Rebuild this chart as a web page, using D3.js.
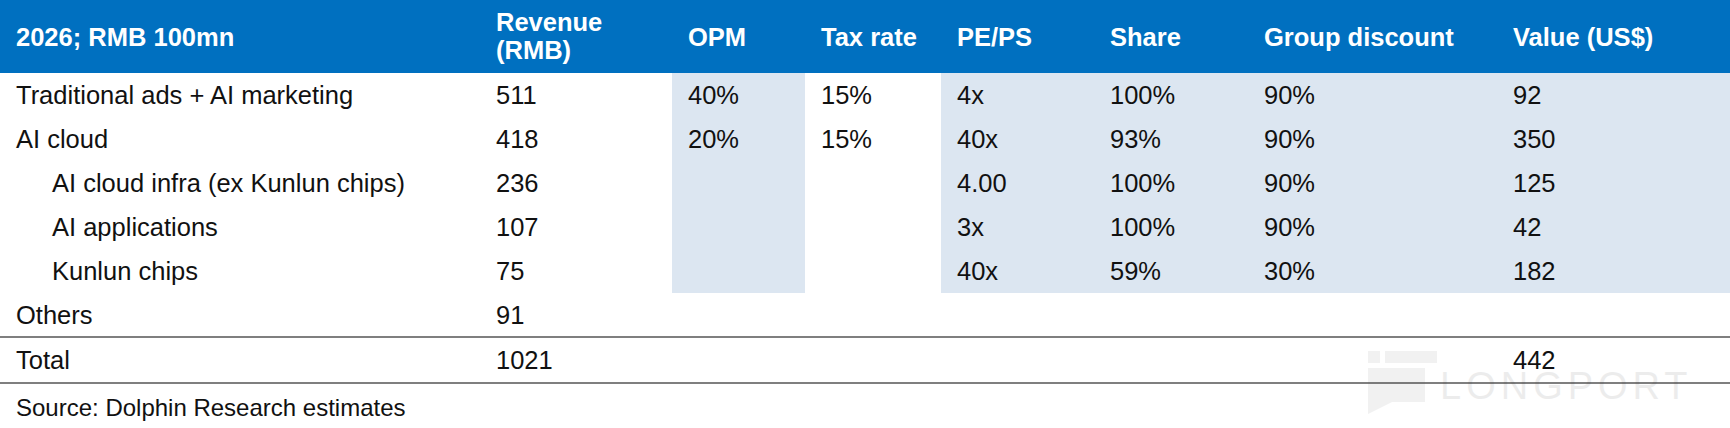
<!DOCTYPE html>
<html>

<head>
  <title>SOTP table</title>
  <script src="https://cdn.jsdelivr.net/npm/d3@7"></script>
  <style type="text/css">
    body {
      margin: 0;
      background: #fff;
    }

    text {
      font-family: "Liberation Sans", Arial, sans-serif;
    }
  </style>
</head>

<body>
  <div id="chartArea"></div>
  <script type="text/javascript">
    let headers = ['2026; RMB 100mn', 'Revenue\n(RMB)', 'OPM', 'Tax rate', 'PE/PS', 'Share', 'Group discount', 'Value (US$)'];
    let rowLabels = ['Traditional ads + AI marketing', 'AI cloud', 'AI cloud infra (ex Kunlun chips)',
      'AI applications', 'Kunlun chips', 'Others', 'Total'];
    let indent = [0, 0, 1, 1, 1, 0, 0];
    let revenue = ['511', '418', '236', '107', '75', '91', '1021'];
    let opm = ['40%', '20%', '', '', '', '', ''];
    let taxRate = ['15%', '15%', '', '', '', '', ''];
    let pePs = ['4x', '40x', '4.00', '3x', '40x', '', ''];
    let share = ['100%', '93%', '100%', '100%', '59%', '', ''];
    let groupDiscount = ['90%', '90%', '90%', '90%', '30%', '', ''];
    let valueUsd = ['92', '350', '125', '42', '182', '', '442'];
    let source = 'Source: Dolphin Research estimates';

    let w = 1730;
    let h = 428;
    let headH = 73;
    let rowH = 44;

    // column left edges (text starts a bit to the right)
    let colX = [0, 480, 672, 805, 941, 1094, 1248, 1497];
    let pad = 16;
    let fs = 25.5;

    let svg = d3.select('#chartArea').append('svg')
      .attr('width', w)
      .attr('height', h);

    let yScale = d3.scaleBand()
      .domain(rowLabels)
      .range([headH, headH + rowH * rowLabels.length]);

    // header band
    svg.append('rect')
      .attr('x', 0)
      .attr('y', 0)
      .attr('width', w)
      .attr('height', headH)
      .attr('fill', '#0070c0');

    // shaded blocks: OPM column and PE/PS..Value, first five rows
    let shadeRows = rowLabels.slice(0, 5);
    let blocks = [[2, 3], [4, 8]];
    svg.selectAll('rect.shade')
      .data(blocks)
      .enter()
      .append('rect')
      .attr('class', 'shade')
      .attr('x', d => colX[d[0]])
      .attr('width', d => (d[1] < colX.length ? colX[d[1]] : w) - colX[d[0]])
      .attr('y', yScale(shadeRows[0]))
      .attr('height', yScale.bandwidth() * shadeRows.length)
      .attr('fill', '#dce6f1');

    // header text
    headers.forEach((t, i) => {
      let lines = t.split('\n');
      let tx = svg.append('text')
        .attr('x', colX[i] + pad)
        .attr('y', lines.length > 1 ? 22 : headH / 2)
        .attr('dominant-baseline', 'central')
        .attr('fill', '#fff')
        .attr('font-weight', 'bold')
        .attr('font-size', fs);
      lines.forEach((l, j) => {
        tx.append('tspan')
          .attr('x', colX[i] + pad)
          .attr('dy', j === 0 ? 0 : 28)
          .text(l);
      });
    });

    // body cells
    let cols = [rowLabels, revenue, opm, taxRate, pePs, share, groupDiscount, valueUsd];
    cols.forEach((vals, ci) => {
      svg.selectAll('text.c' + ci)
        .data(vals)
        .enter()
        .append('text')
        .attr('class', 'c' + ci)
        .attr('x', (d, ri) => colX[ci] + pad + (ci === 0 ? indent[ri] * 36 : 0))
        .attr('y', (d, ri) => yScale(rowLabels[ri]) + yScale.bandwidth() / 2 + (ri === 6 ? 1 : 0))
        .attr('dominant-baseline', 'central')
        .attr('font-size', fs)
        .attr('fill', '#111')
        .text(d => d);
    });

    // rules around total row
    let ruleY = [yScale('Total'), yScale('Total') + yScale.bandwidth() + 2];
    svg.selectAll('line.rule')
      .data(ruleY)
      .enter()
      .append('line')
      .attr('class', 'rule')
      .attr('x1', 0)
      .attr('x2', w)
      .attr('y1', d => d)
      .attr('y2', d => d)
      .attr('stroke', '#7f7f7f')
      .attr('stroke-width', 2);

    svg.append('text')
      .attr('x', pad)
      .attr('y', 407)
      .attr('dominant-baseline', 'central')
      .attr('font-size', 24)
      .attr('fill', '#111')
      .text(source);

    // faint watermark
    let wm = svg.append('g').attr('opacity', 0.08);
    wm.append('rect').attr('x', 1368).attr('y', 351).attr('width', 12).attr('height', 12).attr('fill', '#555');
    wm.append('rect').attr('x', 1385).attr('y', 351).attr('width', 52).attr('height', 12).attr('fill', '#555');
    wm.append('path').attr('d', 'M1368,368 H1425 V402 H1392 L1368,414 Z').attr('fill', '#555');
    wm.append('text')
      .attr('x', 1440)
      .attr('y', 386)
      .attr('dominant-baseline', 'central')
      .attr('font-size', 38)
      .attr('letter-spacing', 5)
      .attr('fill', '#222')
      .text('LONGPORT');
  </script>
</body>

</html>
